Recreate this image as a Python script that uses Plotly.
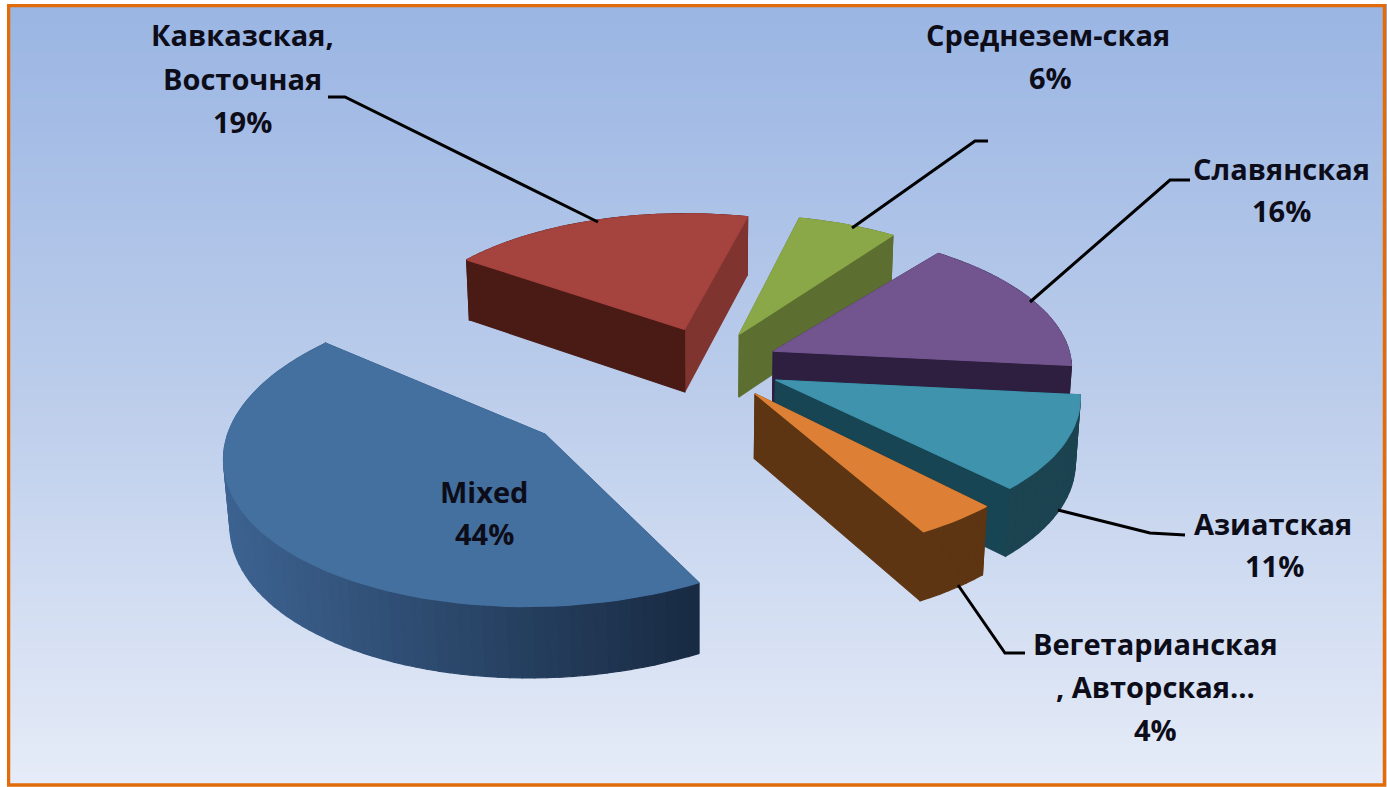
import math
import plotly.graph_objects as go

# --- data ---
categories = ["Mixed", "Кавказская, Восточная", "Среднезем-ская", "Славянская", "Азиатская", "Вегетарианская, Авторская…"]
values = [44, 19, 6, 16, 11, 4]
label_lines = [["Mixed"], ["Кавказская,", "Восточная"], ["Среднезем-ская"], ["Славянская"], ["Азиатская"], ["Вегетарианская", ", Авторская…"]]

# --- styles ---
top_colors = ["#44709f", "#a5433f", "#8aa848", "#72558f", "#3f93ad", "#dd8036"]
wall_start = ["#2c4a70", "#4a1a14", "#5c6f30", "#2e1f40", "#174553", "#5e3512"]
wall_end = ["#2c4a70", "#7f3430", "#5c6f30", "#2e1f40", "#174553", "#5e3512"]
arc_left = ["#3d6391", "#4a1a14", "#5c6f30", "#2e1f40", "#1c4350", "#5e3512"]
arc_right = ["#182a42", "#4a1a14", "#5c6f30", "#2e1f40", "#1c4350", "#5e3512"]
explode = [199, 92, 89, 85, 78, 74]
explode_dir = [138, 260, 297, 331, 16, 43]
radius = [303, 292, 300, 300, 300, 300]
angle_shift = [1, -3, -3, 0, 0, 1]
start_angle = 60.0
draw_order = [1, 2, 3, 4, 0, 5]
WIDTH, HEIGHT = 1387, 787
CX, CY = 700, 370
PITCH = math.radians(27.5)
DIST = 2600
THICK = 73

label_pos = [[(484, 491)], [(242, 34), (242, 78)], [(1048, 34)], [(1281, 168)], [(1273, 523)], [(1155, 643), (1155, 686)]]
pct_pos = [(484, 533), (242, 121), (1050, 77), (1281, 210), (1274, 565), (1155, 729)]
leaders = [
    [(328, 97), (345, 97), (598, 222)],
    [(988, 141), (975, 141), (852, 228)],
    [(1190, 180), (1170, 180), (1030, 302)],
    [(1058, 510), (1150, 533), (1185, 535)],
    [(1025, 653), (1005, 653), (958, 585)],
]
FONT = "Open Sans"
FONT_SIZE = 29


def project(X, T, Z):
    yc = Z * math.cos(PITCH) - T * math.sin(PITCH)
    zc = DIST - T * math.cos(PITCH) - Z * math.sin(PITCH)
    return CX + DIST * X / zc, CY - DIST * yc / zc


def mix(a, b, f):
    pa = [int(a[i:i + 2], 16) for i in (1, 3, 5)]
    pb = [int(b[i:i + 2], 16) for i in (1, 3, 5)]
    return "#%02x%02x%02x" % tuple(round(p + (q - p) * f) for p, q in zip(pa, pb))


fig = go.Figure()
fig.add_trace(go.Heatmap(
    x=[0, WIDTH], y=[0, HEIGHT], z=[[0, 0], [1, 1]], zsmooth="best", showscale=False, hoverinfo="skip",
    colorscale=[[0, "#9ab5e3"], [0.5, "#bccdeb"], [1, "#e6ecf8"]],
))


def poly(points, color):
    xs = [p[0] for p in points] + [points[0][0]]
    ys = [p[1] for p in points] + [points[0][1]]
    fig.add_trace(go.Scatter(x=xs, y=ys, mode="lines", fill="toself", fillcolor=color,
                             line=dict(color=color, width=1.2), hoverinfo="skip", showlegend=False))


spans = []
a = start_angle
total = sum(values)
for i, v in enumerate(values):
    spans.append((a + angle_shift[i], a + angle_shift[i] + v / total * 360))
    a += v / total * 360

for i in draw_order:
    a0, a1 = spans[i]
    mid = math.radians(explode_dir[i])
    ox, ot = explode[i] * math.cos(mid), explode[i] * math.sin(mid)
    r = radius[i]
    n = max(6, int((a1 - a0) / 2))
    rim = []
    for k in range(n + 1):
        ang = math.radians(a0 + (a1 - a0) * k / n)
        rim.append((ox + r * math.cos(ang), ot + r * math.sin(ang)))
    apex = (ox, ot)
    walls = []
    for (p, q, col) in [(apex, rim[0], wall_start[i]), (apex, rim[-1], wall_end[i])]:
        walls.append(((p[1] + q[1]) / 2, [p, q], col))
    xmin = min(project(p[0], p[1], 0)[0] for p in rim)
    xmax = max(project(p[0], p[1], 0)[0] for p in rim)
    for k in range(n):
        p, q = rim[k], rim[k + 1]
        sx = project((p[0] + q[0]) / 2, (p[1] + q[1]) / 2, 0)[0]
        f = (sx - xmin) / max(xmax - xmin, 1)
        walls.append(((p[1] + q[1]) / 2, [p, q], mix(arc_left[i], arc_right[i], f)))
    for _, (p, q), col in sorted(walls, key=lambda w: w[0]):
        poly([project(p[0], p[1], 0), project(q[0], q[1], 0),
              project(q[0], q[1], -THICK), project(p[0], p[1], -THICK)], col)
    poly([project(apex[0], apex[1], 0)] + [project(p[0], p[1], 0) for p in rim], top_colors[i])

for seg in leaders:
    fig.add_trace(go.Scatter(x=[p[0] for p in seg], y=[p[1] for p in seg], mode="lines",
                             line=dict(color="#000000", width=3), hoverinfo="skip", showlegend=False))

annos = []
for i in range(len(values)):
    for txt, pos in zip(label_lines[i], label_pos[i]):
        annos.append(dict(x=pos[0], y=pos[1], text=f"<b>{txt}</b>", showarrow=False))
    annos.append(dict(x=pct_pos[i][0], y=pct_pos[i][1], text=f"<b>{values[i]}%</b>", showarrow=False))
for an in annos:
    an["font"] = dict(family=FONT, size=FONT_SIZE, color="#0d0d1a")
    an["xanchor"] = "center"
    an["yanchor"] = "middle"

fig.update_layout(
    width=WIDTH, height=HEIGHT, margin=dict(l=0, r=0, t=0, b=0),
    paper_bgcolor="#ffffff", plot_bgcolor="rgba(0,0,0,0)", showlegend=False,
    xaxis=dict(range=[0, WIDTH], visible=False, fixedrange=True),
    yaxis=dict(range=[HEIGHT, 0], visible=False, fixedrange=True),
    annotations=annos,
    shapes=[
        dict(type="rect", x0=8.5, y0=5.5, x1=1384.5, y1=785, line=dict(color="#e36c0a", width=3.5), layer="above"),
        dict(type="rect", x0=0, y0=0, x1=7, y1=787, fillcolor="#ffffff", line_width=0, layer="above"),
        dict(type="rect", x0=0, y0=0, x1=1387, y1=4, fillcolor="#ffffff", line_width=0, layer="above"),
    ],
)
fig.write_html("out.html", config=dict(displayModeBar=False),
               post_script="document.documentElement.style.margin='0';document.body.style.margin='0';document.body.style.overflow='hidden';")
